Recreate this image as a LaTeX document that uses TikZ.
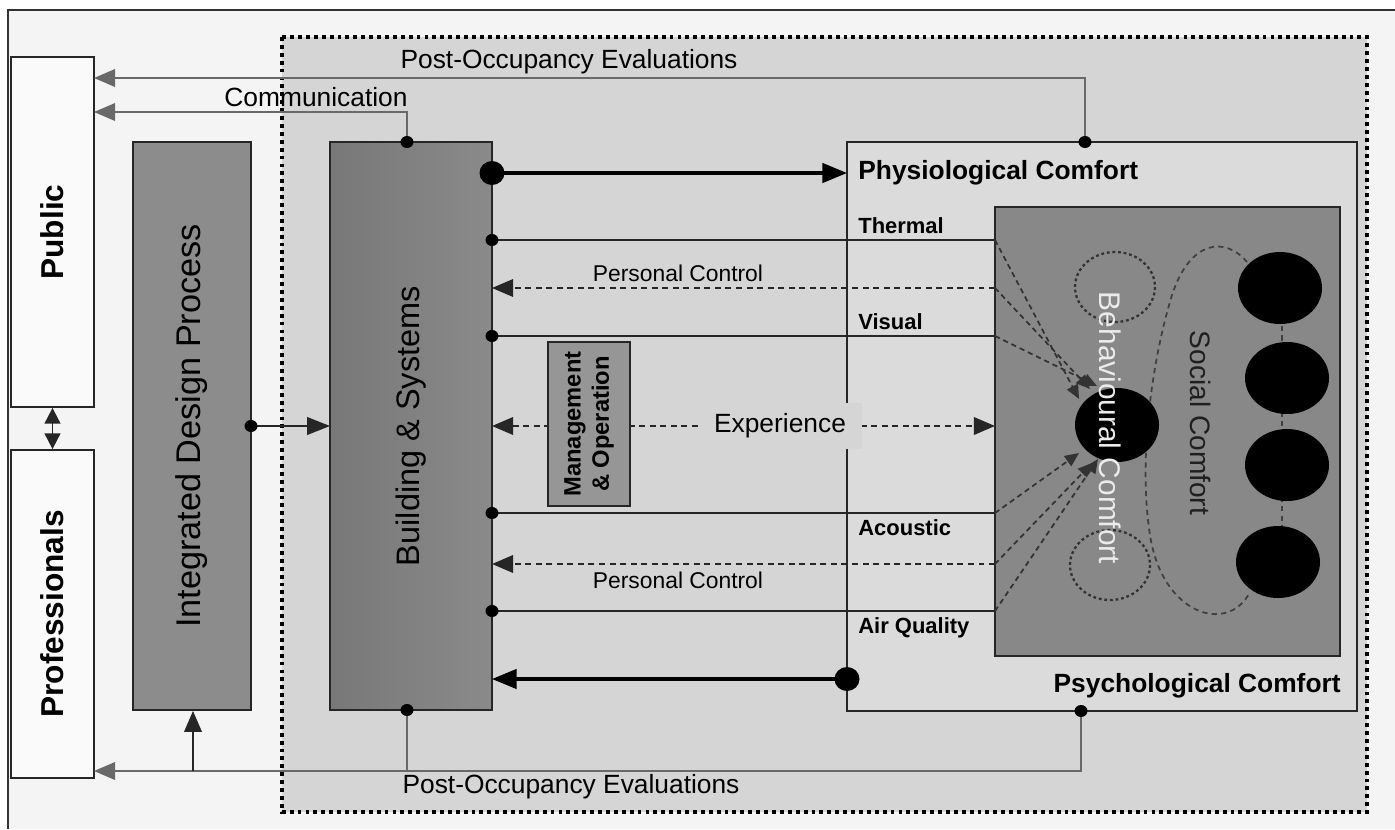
\documentclass[tikz,border=0pt]{standalone}
\usepackage{fontspec}
\setmainfont{Liberation Sans}
\usetikzlibrary{arrows.meta}
\definecolor{paperColor}{RGB}{244,244,244}
\definecolor{zoneColor}{RGB}{213,213,213}
\definecolor{physioColor}{RGB}{219,219,219}
\definecolor{boxColor}{RGB}{140,140,140}
\definecolor{buildLeft}{RGB}{120,120,120}
\definecolor{buildRight}{RGB}{138,138,138}
\definecolor{psychoColor}{RGB}{136,136,136}
\definecolor{manageColor}{RGB}{150,150,150}
\definecolor{lineColor}{RGB}{105,105,105}
\tikzstyle{diagram} = [x = .02cm, y = -.02cm]
\tikzstyle{zoneBorder} = [fill=zoneColor, draw=black, line width=2.2pt, dash pattern=on 2.2pt off 2.3pt]
\tikzstyle{boxStyle} = [draw=black!85, line width=1pt, inner sep=0pt]
\tikzstyle{whiteBox} = [boxStyle, fill=white!50!paperColor]
\tikzstyle{feedLine} = [color=lineColor, line width=1.1pt]
\tikzstyle{feedArrow} = [feedLine, -{Triangle[length=12pt, width=10pt]}]
\tikzstyle{senseLine} = [color=black!85, line width=1.1pt]
\tikzstyle{thickArrow} = [line width=1.9pt, -{Triangle[length=14pt, width=11pt]}]
\tikzstyle{controlArrow} = [black!85, line width=1pt, dash pattern=on 3.4pt off 2.6pt, -{Triangle[length=12pt, width=10pt]}]
\tikzstyle{innerArrow} = [black!80, line width=1pt, dash pattern=on 3pt off 2.2pt, -{Triangle[length=8pt, width=7pt]}]
\tikzstyle{loopLine} = [black!75, line width=1pt, dash pattern=on 3pt off 2.4pt]
\tikzstyle{ringLine} = [black!80, line width=1.3pt, dash pattern=on 1.6pt off 1.6pt]
\tikzstyle{mainText} = [font=\fontsize{15}{18}\selectfont, inner sep=1pt]
\tikzstyle{senseText} = [font=\fontsize{12.5}{15}\selectfont\bfseries, anchor=west, inner sep=0pt]
\tikzstyle{headText} = [font=\fontsize{15}{18}\selectfont\bfseries, inner sep=0pt]
\newcommand{\panel}[6]{\node [#6, minimum width = #4 * .02cm, minimum height = #5 * .02cm] (#1) at (#2, #3) {};}
\newcommand{\smallDot}[1]{\fill (#1) ellipse (6.5 and 6);}
\newcommand{\bigDot}[1]{\fill (#1) ellipse (12.5 and 12);}

\begin{document}
\begin{tikzpicture}[diagram]
  \useasboundingbox (0,0) rectangle (1395,829);
  \fill [white] (0,0) rectangle (1395,829);
  \fill [paperColor] (8,10) rectangle (1395,829);
  \draw [black!80, line width=.8pt] (8,829) -- (8,10) -- (1395,10);

  % evaluated zone
  \filldraw [zoneBorder] (282,37) rectangle (1367,812);

  % stakeholders and process
  \panel{public}{52.5}{232}{83}{350}{whiteBox}
  \panel{professionals}{52.5}{614}{83}{328}{whiteBox}
  \panel{design}{192}{426}{118}{568}{boxStyle, fill=boxColor}
  \panel{building}{411}{426}{162}{568}{boxStyle, left color=buildLeft, right color=buildRight}
  \panel{physio}{1102}{426.5}{510}{569}{boxStyle, fill=physioColor}
  \panel{psycho}{1167.5}{431.5}{345}{449}{boxStyle, fill=psychoColor}

  \node [font=\fontsize{18}{20}\selectfont\bfseries, rotate=90] (publicText) at (public) {Public};
  \node [font=\fontsize{18}{20}\selectfont\bfseries, rotate=90] (professionalsText) at (professionals) {Professionals};
  \node [font=\fontsize{19.5}{22}\selectfont, rotate=90] (designText) at (design) {Integrated Design Process};
  \node [font=\fontsize{18.5}{22}\selectfont, rotate=90] (buildingText) at (building) {Building \& Systems};

  \draw [senseLine, {Triangle[length=9pt, width=9pt]}-{Triangle[length=9pt, width=9pt]}] (public.south) -- (professionals.north);

  % design feeds the building
  \coordinate (designOut) at (251,426);
  \coordinate (buildingIn) at (330,426);
  \draw [senseLine, -{Triangle[length=13pt, width=10pt]}] (designOut) -- (buildingIn);
  \smallDot{designOut}

  % comfort channels
  \coordinate (physioOut) at (492,173);
  \coordinate (physioIn) at (847,173);
  \draw [thickArrow] (physioOut) -- (physioIn);
  \bigDot{physioOut}
  \coordinate (psychoOut) at (847,679);
  \coordinate (psychoIn) at (492,679);
  \draw [thickArrow] (psychoOut) -- (psychoIn);
  \bigDot{psychoOut}

  \foreach \level/\labelY/\sense in {240/226/Thermal, 336/322/Visual, 513/528/Acoustic, 611/628/Air Quality} {
    \coordinate (sense\level) at (492,\level);
    \coordinate (edge\level) at (995,\level);
    \draw [senseLine] (sense\level) -- (edge\level);
    \smallDot{sense\level}
    \node [senseText] (senseText\level) at (858,\labelY) {\sense};
  }
  \foreach \level/\labelY in {288/273, 564/580} {
    \coordinate (edge\level) at (995,\level);
    \coordinate (control\level) at (492,\level);
    \draw [controlArrow] (edge\level) -- (control\level);
    \node [font=\fontsize{13}{15}\selectfont, inner sep=0pt] (controlText\level) at (678,\labelY) {Personal Control};
  }

  % experience
  \coordinate (experienceLeft) at (492,426);
  \coordinate (experienceRight) at (995,426);
  \draw [controlArrow, {Triangle[length=12pt, width=10pt]}-{Triangle[length=12pt, width=10pt]}] (experienceLeft) -- (experienceRight);
  \node [mainText, fill=zoneColor, inner xsep=9pt, inner ysep=6pt] (experience) at (780,426) {Experience};

  \panel{manage}{589}{424}{82}{164}{boxStyle, fill=manageColor}
  \node [font=\fontsize{13.5}{16}\selectfont\bfseries, rotate=90, align=center] (manageText) at (manage) {Management\\\& Operation};

  % inside psychological comfort
  \coordinate (behaviour) at (1117,425);
  \draw [loopLine] (1247,262) .. controls (1225,236) and (1190,240) .. (1172,295)
    .. controls (1152,360) and (1138,460) .. (1150,535)
    .. controls (1162,615) and (1228,635) .. (1250,592);
  \draw [loopLine] (1282,288) -- (1282,563);
  \draw [ringLine] (1115,287) ellipse (40 and 35);
  \draw [ringLine] (1110,565) ellipse (40 and 35);
  \foreach \level/\tipX/\tipY in {240/1079/399, 288/1090/389, 336/1097/386, 513/1079/453, 564/1092/463, 611/1098/459} {
    \coordinate (tip\level) at (\tipX,\tipY);
    \draw [innerArrow] (edge\level) -- (tip\level);
  }
  \fill (behaviour) ellipse (42 and 37);
  \foreach \name/\cx/\cy in {socialA/1280/288, socialB/1287/378, socialC/1287/465, socialD/1278/562} {
    \coordinate (\name) at (\cx,\cy);
    \fill (\name) ellipse (42 and 36);
  }
  \node [font=\fontsize{17}{20}\selectfont, color=white!92!black, rotate=-90] (behaviourText) at (1110,428) {Behavioural Comfort};
  \node [font=\fontsize{16}{20}\selectfont, color=black!88, rotate=-90] (socialText) at (1201,423) {Social Comfort};

  \node [headText, anchor=west] (physioText) at (858,173) {Physiological Comfort};
  \node [headText, anchor=east] (psychoText) at (1341,686) {Psychological Comfort};

  % feedback to the public
  \coordinate (topEval) at (1085,142);
  \coordinate (topComm) at (407,142);
  \coordinate (publicEval) at (94,78);
  \coordinate (publicComm) at (94,112);
  \draw [feedArrow] (topEval) |- (publicEval);
  \draw [feedArrow] (topComm) |- (publicComm);
  \smallDot{topEval}
  \smallDot{topComm}
  \node [mainText] (evalTop) at (569,62) {Post-Occupancy Evaluations};
  \node [mainText] (commText) at (316,97) {Communication};

  % feedback to the professionals
  \coordinate (bottomEval) at (1081,711);
  \coordinate (bottomBuild) at (407,710);
  \coordinate (professionalsEval) at (94,771);
  \coordinate (designEval) at (193,771);
  \draw [feedArrow] (bottomEval) |- (professionalsEval);
  \draw [feedLine] (bottomBuild) -- (bottomBuild |- professionalsEval);
  \draw [senseLine, -{Triangle[length=12pt, width=10pt]}] (designEval) -- (design.south -| designEval);
  \smallDot{bottomEval}
  \smallDot{bottomBuild}
  \node [mainText] (evalBottom) at (571,787) {Post-Occupancy Evaluations};
\end{tikzpicture}
\end{document}
